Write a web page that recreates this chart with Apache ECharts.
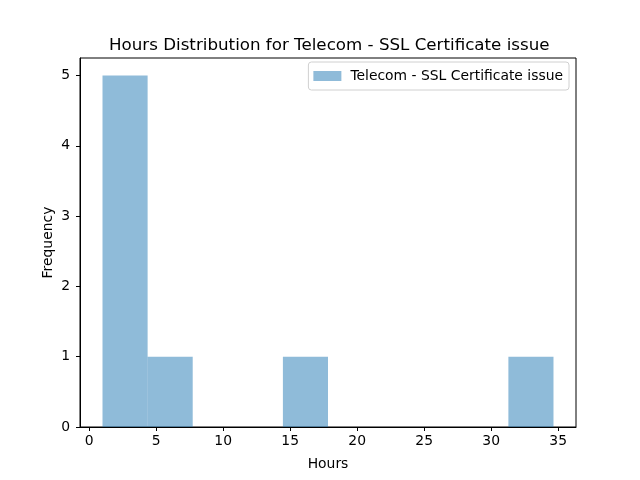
<!DOCTYPE html>
<html>
<head>
<meta charset="utf-8">
<script src="https://cdn.jsdelivr.net/npm/echarts@6/dist/echarts.min.js"></script>
<style>
  html, body { margin: 0; padding: 0; background: #fff; }
  #main { width: 640px; height: 480px; }
</style>
</head>
<body>
<div id="main"></div>
<script>
const binEdges = [1.0, 4.365, 7.73, 11.095, 14.46, 17.825, 21.19, 24.555, 27.92, 31.285, 34.65]
const counts = [5, 1, 0, 0, 1, 0, 0, 0, 0, 1]
const xTicks = [0, 5, 10, 15, 20, 25, 30, 35]
const yTicks = [0, 1, 2, 3, 4, 5]
const seriesName = 'Telecom - SSL Certificate issue'

const FONT = 'DejaVu Sans'
const barColor = 'rgba(31,119,180,0.5)'

const bins = counts.map((c, i) => [binEdges[i], binEdges[i + 1], c])

const chart = echarts.init(document.getElementById('main'), null, { renderer: 'canvas' })
chart.setOption({
  animation: false,
  title: {
    text: 'Hours Distribution for ' + seriesName,
    left: 104,
    top: 32,
    textStyle: { fontFamily: FONT, fontSize: 16.7, fontWeight: 'normal', color: '#000' }
  },
  legend: {
    right: 71,
    top: 62,
    orient: 'vertical',
    itemWidth: 28,
    itemHeight: 10,
    itemGap: 0,
    padding: [7, 6, 7, 5],
    borderColor: '#d0d0d0',
    borderWidth: 1,
    borderRadius: 3,
    icon: 'rect',
    textStyle: { fontFamily: FONT, fontSize: 13.9, color: '#000', padding: [0, 0, 0, 4] },
    data: [{ name: seriesName, itemStyle: { color: barColor } }]
  },
  grid: {
    left: 80, right: 64, top: 58, bottom: 53,
    show: true, borderColor: '#000', borderWidth: 1, backgroundColor: 'transparent'
  },
  xAxis: {
    type: 'value',
    min: -0.68,
    max: 36.33,
    name: 'Hours',
    nameLocation: 'middle',
    nameGap: 30,
    nameMoveOverlap: false,
    nameTextStyle: { fontFamily: FONT, fontSize: 13.9, color: '#000' },
    axisLine: { show: true, onZero: false, lineStyle: { color: '#000', width: 1 } },
    axisTick: { show: true, length: 4, customValues: xTicks, lineStyle: { color: '#000' } },
    axisLabel: { customValues: xTicks, fontFamily: FONT, fontSize: 13.9, color: '#000', margin: 7 },
    splitLine: { show: false }
  },
  yAxis: {
    type: 'value',
    min: 0,
    max: 5.25,
    name: 'Frequency',
    nameLocation: 'middle',
    nameGap: 25,
    nameMoveOverlap: false,
    nameTextStyle: { fontFamily: FONT, fontSize: 13.9, color: '#000' },
    axisLine: { show: true, onZero: false, lineStyle: { color: '#000', width: 1 } },
    axisTick: { show: true, length: 4, customValues: yTicks, lineStyle: { color: '#000' } },
    axisLabel: { customValues: yTicks, fontFamily: FONT, fontSize: 13.9, color: '#000', margin: 10 },
    splitLine: { show: false }
  },
  series: [{
    name: seriesName,
    type: 'custom',
    itemStyle: { color: barColor },
    encode: { x: [0, 1], y: 2 },
    data: bins,
    renderItem: (params, api) => {
      const p0 = api.coord([api.value(0), 0])
      const p1 = api.coord([api.value(1), api.value(2)])
      return {
        type: 'rect',
        shape: { x: p0[0], y: p1[1], width: p1[0] - p0[0], height: p0[1] - p1[1] },
        style: { fill: barColor }
      }
    }
  }]
})
</script>
</body>
</html>
